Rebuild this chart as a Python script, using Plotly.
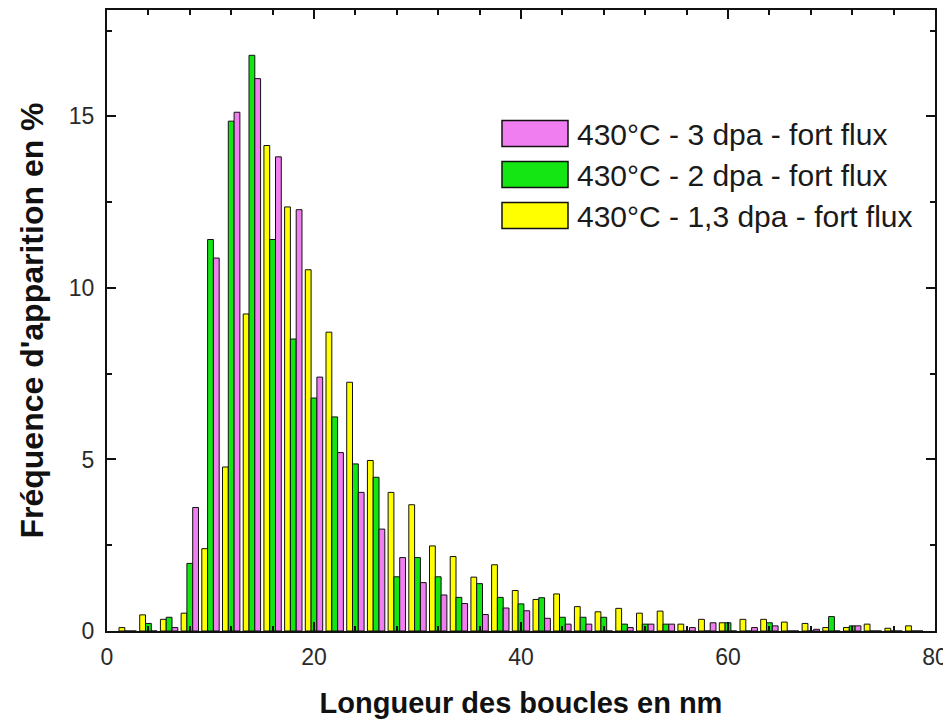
import plotly.graph_objects as go

# ---- data ----
bins = list(range(2, 80, 2))  # loop length bin centres (nm)

y_13dpa = [0.1, 0.47, 0.34, 0.52, 2.4, 4.78, 9.24, 14.15, 12.36, 10.53,
           8.71, 7.25, 4.97, 4.04, 3.68, 2.48, 2.17, 1.57, 1.93, 1.18,
           0.92, 1.08, 0.71, 0.56, 0.66, 0.52, 0.58, 0.2, 0.34, 0.24,
           0.34, 0.34, 0.26, 0.22, 0.1, 0.1, 0.2, 0.08, 0.15]
y_2dpa = [0.0, 0.22, 0.4, 1.97, 11.41, 14.86, 16.78, 11.41, 8.51, 6.79,
          6.24, 4.87, 4.48, 1.58, 2.14, 1.58, 0.98, 1.38, 0.98, 0.79,
          0.97, 0.4, 0.4, 0.4, 0.2, 0.2, 0.2, 0.0, 0.0, 0.24,
          0.0, 0.24, 0.0, 0.0, 0.42, 0.15, 0.0, 0.0, 0.0]
y_3dpa = [0.0, 0.0, 0.1, 3.6, 10.87, 15.12, 16.1, 13.82, 12.28, 7.4,
          5.2, 4.04, 2.97, 2.14, 1.41, 1.05, 0.8, 0.48, 0.67, 0.59,
          0.37, 0.2, 0.2, 0.0, 0.1, 0.2, 0.2, 0.1, 0.24, 0.0,
          0.1, 0.15, 0.0, 0.05, 0.0, 0.15, 0.0, 0.0, 0.0]

labels = ["430°C - 3 dpa - fort flux",
          "430°C - 2 dpa - fort flux",
          "430°C - 1,3 dpa - fort flux"]
colors = ["#F07EF0", "#14E614", "#FFFF00"]

x_title = "Longueur des boucles en nm"
y_title = "Fréquence d'apparition en %"

FONT = "Liberation Sans, Arial, sans-serif"

fig = go.Figure()
# drawing order left->right within a group: yellow, green, pink
for yv, lab, col in [(y_13dpa, labels[2], colors[2]),
                     (y_2dpa, labels[1], colors[1]),
                     (y_3dpa, labels[0], colors[0])]:
    fig.add_trace(go.Bar(x=bins, y=yv, name=lab,
                         marker=dict(color=col, line=dict(color="#111", width=1)),
                         showlegend=False))

# page has an 8px body margin -> figure placed at (8, 8)
OFF = 8
W, H = 951 - OFF, 724 - OFF
L, R, T, B = 107 - OFF, 16, 10 - OFF, 93
pw, ph = W - L - R, H - T - B

def px(xp):  # page pixel -> paper x
    return (xp - OFF - L) / pw

def py(yp):  # page pixel -> paper y
    return (H - B - (yp - OFF)) / ph

shapes = []
annotations = []
row_centres = [133.5, 174.5, 215.5]
for lab, col, yc in zip(labels, colors, row_centres):
    shapes.append(dict(type="rect", xref="paper", yref="paper",
                       x0=px(502), x1=px(568), y0=py(yc + 13), y1=py(yc - 13),
                       fillcolor=col, line=dict(color="#111", width=1.5)))
    annotations.append(dict(xref="paper", yref="paper", x=px(575), y=py(yc + 1),
                            text=lab, showarrow=False, xanchor="left", yanchor="middle",
                            font=dict(family=FONT, size=30, color="#1a1a1a")))

axis_common = dict(showline=True, linecolor="#111", linewidth=2, mirror="ticks",
                   ticks="inside", tickcolor="#111", tickwidth=2, ticklen=9,
                   showgrid=False, zeroline=False, automargin=False,
                   tickfont=dict(family=FONT, size=23, color="#2a2a2a"))

fig.update_layout(
    width=W, height=H,
    margin=dict(l=L, r=R, t=T, b=B, pad=0),
    paper_bgcolor="white", plot_bgcolor="white",
    barmode="group", bargap=0.16, bargroupgap=0.0,
    shapes=shapes, annotations=annotations,
    xaxis=dict(range=[0, 80], tick0=0, dtick=20,
               minor=dict(dtick=4, ticks="inside", ticklen=5, tickcolor="#111", tickwidth=1.5),
               ticklabelstandoff=4,
               title=dict(text="<b>" + x_title + "</b>", standoff=24,
                          font=dict(family=FONT, size=29, color="#111")),
               **axis_common),
    yaxis=dict(range=[0, 18.1], tick0=0, dtick=5,
               minor=dict(dtick=2.5, ticks="inside", ticklen=5, tickcolor="#111", tickwidth=1.5),
               ticklabelstandoff=6,
               title=dict(text="<b>" + y_title + "</b>", standoff=16,
                          font=dict(family=FONT, size=32, color="#111")),
               **axis_common),
)

fig.write_html("out.html")
